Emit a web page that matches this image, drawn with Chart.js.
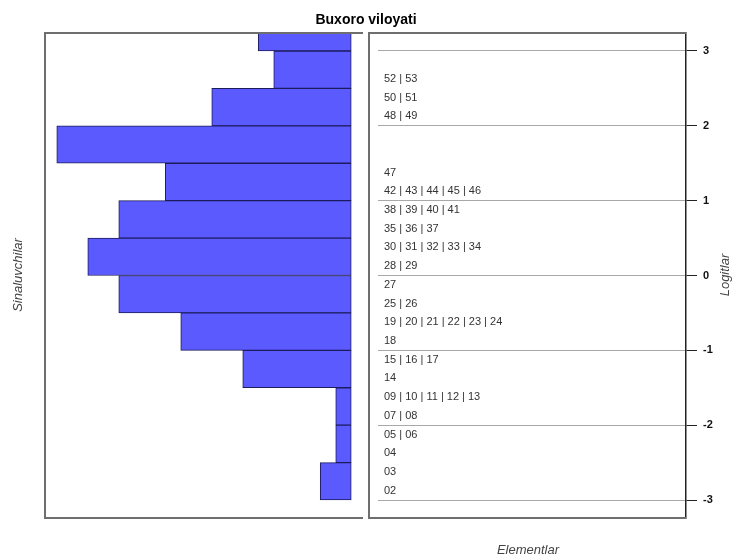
<!DOCTYPE html>
<html>
<head>
<meta charset="utf-8">
<script src="https://cdn.jsdelivr.net/npm/chart.js@4/dist/chart.umd.min.js"></script>
<style>
  html, body { margin: 0; padding: 0; background: #ffffff; }
  #wrap { position: relative; width: 734px; height: 559px; }
  canvas { position: absolute; left: 0; top: 0; }
</style>
</head>
<body>
<div id="wrap">
  <canvas id="left" width="734" height="559"></canvas>
  <canvas id="right" width="734" height="559"></canvas>
</div>
<script>
// ---- Data ----
const chartTitle = "Buxoro viloyati";
const personAxisTitle = "Sinaluvchilar";
const itemAxisTitle = "Elementlar";
const logitAxisTitle = "Logitlar";

// Person histogram: bin centres (logits, bin width 0.5) and counts
const personBinCenters = [3.25, 2.75, 2.25, 1.75, 1.25, 0.75, 0.25, -0.25, -0.75, -1.25, -1.75, -2.25, -2.75];
const personCounts     = [6,    5,    9,    19,   12,   15,   17,   15,    11,    7,     1,     1,     2];

// Item labels and their logit positions
const itemLabels = [
  "52 | 53", "50 | 51", "48 | 49", "47", "42 | 43 | 44 | 45 | 46",
  "38 | 39 | 40 | 41", "35 | 36 | 37", "30 | 31 | 32 | 33 | 34", "28 | 29", "27",
  "25 | 26", "19 | 20 | 21 | 22 | 23 | 24", "18", "15 | 16 | 17", "14",
  "09 | 10 | 11 | 12 | 13", "07 | 08", "05 | 06", "04", "03", "02"
];
const itemLogits = [
  2.625, 2.375, 2.125, 1.375, 1.125,
  0.875, 0.625, 0.375, 0.125, -0.125,
  -0.375, -0.625, -0.875, -1.125, -1.375,
  -1.625, -1.875, -2.125, -2.375, -2.625, -2.875
];

const logitTicks = [-3, -2, -1, 0, 1, 2, 3];

// ---- Shared ----
const Y_MIN = -3.24, Y_MAX = 3.24;
const FONT = "'Liberation Sans', Arial, sans-serif";

// Left chart: person histogram
const leftBoxPlugin = {
  id: 'leftBox',
  afterDraw(chart) {
    const {ctx, chartArea: a} = chart;
    ctx.save();
    ctx.strokeStyle = '#6e6e6e';
    ctx.lineWidth = 2;
    ctx.beginPath();
    ctx.moveTo(a.right, a.top);
    ctx.lineTo(a.left, a.top);
    ctx.lineTo(a.left, a.bottom);
    ctx.lineTo(a.right, a.bottom);
    ctx.stroke();
    // main title
    ctx.fillStyle = '#000';
    ctx.font = "bold 14px " + FONT;
    ctx.textAlign = 'center';
    ctx.textBaseline = 'middle';
    ctx.fillText(chartTitle, 366, 20);
    // person axis title
    ctx.fillStyle = '#444';
    ctx.font = "italic 13px " + FONT;
    ctx.translate(18, 275);
    ctx.rotate(-Math.PI / 2);
    ctx.fillText(personAxisTitle, 0, 0);
    ctx.restore();
  }
};

new Chart(document.getElementById('left'), {
  type: 'bar',
  data: {
    datasets: [{
      data: personBinCenters.map((c, i) => ({ x: personCounts[i], y: c })),
      backgroundColor: '#5a5aff',
      borderColor: '#1c1c5c',
      borderWidth: 1,
      borderSkipped: false,
      barPercentage: 1,
      categoryPercentage: 1
    }]
  },
  options: {
    indexAxis: 'y',
    responsive: false,
    devicePixelRatio: 1,
    animation: false,
    layout: { padding: { left: 45, right: 371, top: 33, bottom: 41 } },
    plugins: { legend: { display: false }, tooltip: { enabled: false } },
    scales: {
      x: { type: 'linear', reverse: true, min: -0.76, max: 19.76, display: false },
      y: {
        type: 'linear', min: Y_MIN, max: Y_MAX, display: false, offset: false,
        afterBuildTicks(scale) { scale.ticks = logitTicks.map(v => ({ value: v })); }
      }
    }
  },
  plugins: [leftBoxPlugin]
});

// Right chart: item map
const rightBoxPlugin = {
  id: 'rightBox',
  afterDatasetsDraw(chart) {
    const {ctx} = chart;
    const meta = chart.getDatasetMeta(0);
    ctx.save();
    ctx.fillStyle = '#333';
    ctx.font = "11px " + FONT;
    ctx.textAlign = 'left';
    ctx.textBaseline = 'middle';
    meta.data.forEach((pt, i) => {
      ctx.fillText(itemLabels[i], pt.x + 6, pt.y);
    });
    ctx.restore();
  },
  afterDraw(chart) {
    const {ctx, chartArea: a} = chart;
    const boxLeft = 369;
    ctx.save();
    ctx.strokeStyle = '#6e6e6e';
    ctx.lineWidth = 2;
    ctx.beginPath();
    ctx.moveTo(a.right, a.top);
    ctx.lineTo(boxLeft, a.top);
    ctx.lineTo(boxLeft, a.bottom);
    ctx.lineTo(a.right, a.bottom);
    ctx.stroke();
    ctx.fillStyle = '#444';
    ctx.font = "italic 13px " + FONT;
    ctx.textAlign = 'center';
    ctx.textBaseline = 'middle';
    ctx.fillText(itemAxisTitle, 528, 550);
    ctx.translate(725, 275);
    ctx.rotate(-Math.PI / 2);
    ctx.fillText(logitAxisTitle, 0, 0);
    ctx.restore();
  }
};

new Chart(document.getElementById('right'), {
  type: 'scatter',
  data: {
    datasets: [{
      data: itemLogits.map(v => ({ x: 0, y: v })),
      pointRadius: 0,
      pointHoverRadius: 0
    }]
  },
  options: {
    responsive: false,
    devicePixelRatio: 1,
    animation: false,
    layout: { padding: { left: 378, right: 0, top: 33, bottom: 41 } },
    plugins: { legend: { display: false }, tooltip: { enabled: false } },
    scales: {
      x: { type: 'linear', min: 0, max: 1, display: false },
      y: {
        type: 'linear',
        position: 'right',
        min: Y_MIN, max: Y_MAX,
        afterBuildTicks(scale) { scale.ticks = logitTicks.map(v => ({ value: v })); },
        afterFit(scale) { scale.width = 48; },
        grid: { color: '#a8a8a8', lineWidth: 1, tickColor: '#222', tickLength: 11, drawTicks: true },
        border: { display: true, color: '#222', width: 1.5 },
        ticks: {
          color: '#111',
          padding: 6,
          font: { family: FONT, size: 11, weight: 'bold' },
          callback: v => String(v)
        }
      }
    }
  },
  plugins: [rightBoxPlugin]
});
</script>
</body>
</html>
